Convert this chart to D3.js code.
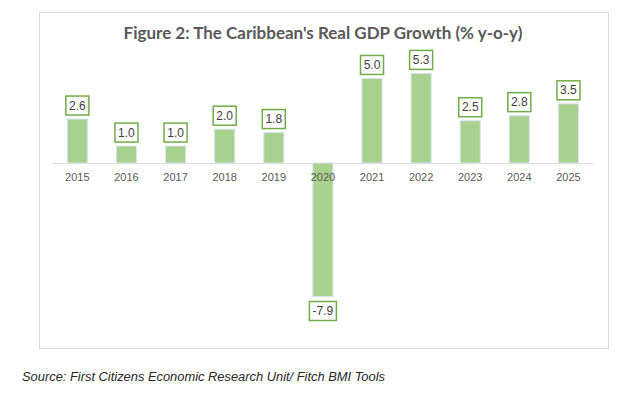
<!DOCTYPE html>
<html><head><meta charset="utf-8">
<script src="https://cdn.jsdelivr.net/npm/d3@7"></script>
<style>
html,body{margin:0;padding:0;background:#fff;}
svg{display:block;}
</style></head>
<body>
<svg id="chart" width="637" height="394"></svg>
<script>
const years = ["2015","2016","2017","2018","2019","2020","2021","2022","2023","2024","2025"];
const growth = [2.6, 1.0, 1.0, 2.0, 1.8, -7.9, 5.0, 5.3, 2.5, 2.8, 3.5];
const titleText = "Figure 2: The Caribbean's Real GDP Growth (% y-o-y)";
const sourceText = "Source: First Citizens Economic Research Unit/ Fitch BMI Tools";

const svg = d3.select("#chart");
// chart frame
svg.append("rect").attr("x",39.5).attr("y",12.5).attr("width",569).attr("height",336)
  .attr("fill","#fff").attr("stroke","#d9d9d9").attr("stroke-width",1);

svg.append("text").attr("x",323).attr("y",39).attr("text-anchor","middle")
  .attr("font-family","Lato, 'Open Sans', sans-serif").attr("font-weight","bold")
  .attr("font-size",17).attr("fill","#595959").text(titleText);

const x = d3.scaleBand().domain(years).range([52.8,593]).paddingInner(0.59).paddingOuter(0.295);
const y = d3.scaleLinear().domain([-7.9,5.3]).range([296.5,73.4]);

const y0 = y(0);
svg.append("line").attr("x1",52.8).attr("x2",593).attr("y1",y0+0.5).attr("y2",y0+0.5)
  .attr("stroke","#d9d9d9").attr("stroke-width",1);

svg.selectAll("rect.bar").data(years).enter().append("rect").attr("class","bar")
  .attr("x",d=>x(d)).attr("width",x.bandwidth())
  .attr("y",(d,i)=>Math.min(y(growth[i]),y0))
  .attr("height",(d,i)=>Math.abs(y(growth[i])-y0))
  .attr("fill","#a9d18e").attr("stroke","#dae3f3").attr("stroke-width",1);

const xAxis = d3.axisBottom(x).tickSize(0).tickPadding(0);
const ax = svg.append("g").attr("transform",`translate(0,${y0})`).call(xAxis);
ax.select(".domain").remove();
ax.selectAll("text").attr("font-family","'Liberation Sans', Arial, sans-serif").attr("font-size",11)
  .attr("fill","#595959").attr("dy","1.6em");

const lab = svg.selectAll("g.lab").data(years).enter().append("g").attr("class","lab");
lab.each(function(d,i){
  const g = d3.select(this);
  const v = growth[i];
  const cx = x(d)+x.bandwidth()/2;
  const t = v.toFixed(1);
  const w = v<0 ? 27 : 23, h = 19;
  const top = v>=0 ? y(v)-4-h : y(v)+5;
  g.append("rect").attr("x",cx-w/2).attr("y",top).attr("width",w).attr("height",h)
    .attr("fill","#fff").attr("stroke","#70ad47").attr("stroke-width",1.5);
  g.append("text").attr("x",cx).attr("y",top+h/2+4).attr("text-anchor","middle")
    .attr("font-family","'Liberation Sans', Arial, sans-serif").attr("font-size",12)
    .attr("fill","#404040").text(t);
});

svg.append("text").attr("x",22).attr("y",381)
  .attr("font-family","'Liberation Sans', Arial, sans-serif").attr("font-style","italic")
  .attr("font-size",12).attr("fill","#262626").text(sourceText)
  .attr("textLength",363).attr("lengthAdjust","spacingAndGlyphs");
</script>
</body></html>
